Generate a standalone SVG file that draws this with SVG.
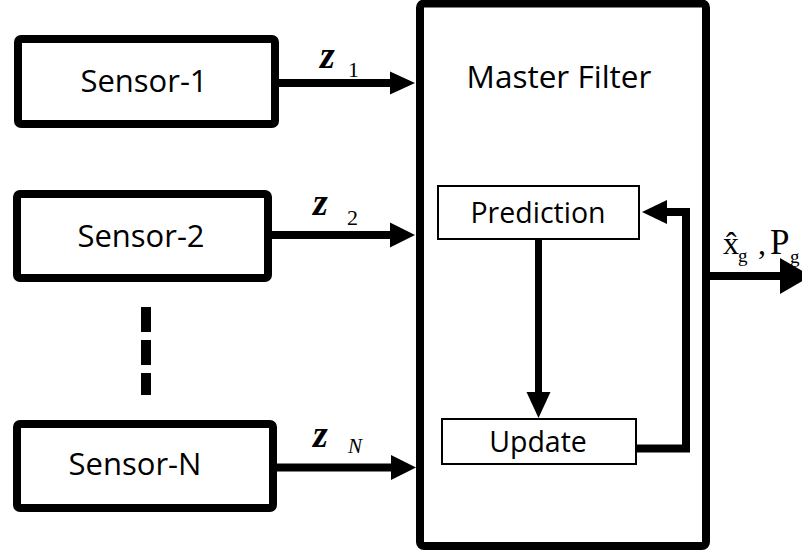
<svg xmlns="http://www.w3.org/2000/svg" width="802" height="554" viewBox="0 0 802 554">
<style>
.box{fill:#fff;stroke:#000;stroke-width:8}
.inner{fill:#fff;stroke:#000;stroke-width:2}
.lbl{font-family:"Open Sans","Noto Sans",sans-serif;fill:#000;text-anchor:middle}
.line{fill:none;stroke:#000;stroke-width:8}
.line7{fill:none;stroke:#000;stroke-width:7}
.head{fill:#000}
.math{font-family:"Liberation Serif","Times New Roman",serif;fill:#000}
</style>
<rect width="802" height="554" fill="#fff"/>
<g id="sensor-1">
<rect class="box" x="18" y="39" width="257" height="85" rx="3"/>
<text class="lbl" x="144" y="92" font-size="31">Sensor-1</text>
</g>
<g id="sensor-2">
<rect class="box" x="17" y="194" width="251" height="84" rx="3"/>
<text class="lbl" x="141" y="247" font-size="31">Sensor-2</text>
</g>
<g id="sensor-n">
<rect class="box" x="17" y="424" width="256" height="84" rx="3"/>
<text class="lbl" x="135" y="475" font-size="31">Sensor-N</text>
</g>
<g id="ellipsis">
<rect x="141" y="307" width="10" height="25" fill="#000"/>
<rect x="141" y="340" width="10" height="25" fill="#000"/>
<rect x="141" y="373" width="10" height="22" fill="#000"/>
</g>
<g id="master-filter">
<rect class="box" x="420" y="3.5" width="286" height="542.5" rx="4"/>
<text class="lbl" x="559" y="88" font-size="31.5">Master Filter</text>
</g>
<g id="prediction">
<rect class="inner" x="438" y="186" width="201" height="53"/>
<text class="lbl" x="538" y="223" font-size="28.5">Prediction</text>
</g>
<g id="update">
<rect class="inner" x="442" y="419" width="194" height="45"/>
<text class="lbl" x="538" y="452" font-size="28.5">Update</text>
</g>
<g id="connectors">
<line class="line" x1="275" y1="83" x2="392" y2="83"/>
<polygon class="head" points="390,71.5 415,83 390,94.5"/>
<line class="line" x1="268" y1="235" x2="392" y2="235"/>
<polygon class="head" points="390,222.5 415,235 390,247.5"/>
<line class="line" x1="273" y1="467.5" x2="392" y2="467.5"/>
<polygon class="head" points="391,455 416,467.5 391,480"/>
<line class="line7" x1="538.5" y1="240" x2="538.5" y2="394"/>
<polygon class="head" points="526.5,392 550.5,392 538.5,418"/>
<polyline class="line" points="636,448.5 686,448.5 686,212 665,212"/>
<polygon class="head" points="667,200 667,224 642,212"/>
<line class="line" x1="706" y1="276" x2="782" y2="276"/>
<polygon class="head" points="780,258 806,273 806,279 780,294"/>
</g>
<g id="labels">
<text class="math" font-size="38" font-weight="bold" font-style="italic" x="320" y="68">z</text>
<text class="math" font-size="22" x="348" y="77">1</text>
<text class="math" font-size="38" font-weight="bold" font-style="italic" x="313" y="215">z</text>
<text class="math" font-size="22" x="347" y="225">2</text>
<text class="math" font-size="38" font-weight="bold" font-style="italic" x="313" y="447">z</text>
<text class="math" font-size="21" font-style="italic" x="348" y="453">N</text>
<text class="math" font-size="32"><tspan x="723" y="254">x̂</tspan><tspan x="738" y="262" font-size="19">g</tspan><tspan x="758" y="254">,</tspan><tspan x="770" y="254" font-size="35">P</tspan><tspan x="790" y="263" font-size="19">g</tspan></text>
</g>
</svg>
